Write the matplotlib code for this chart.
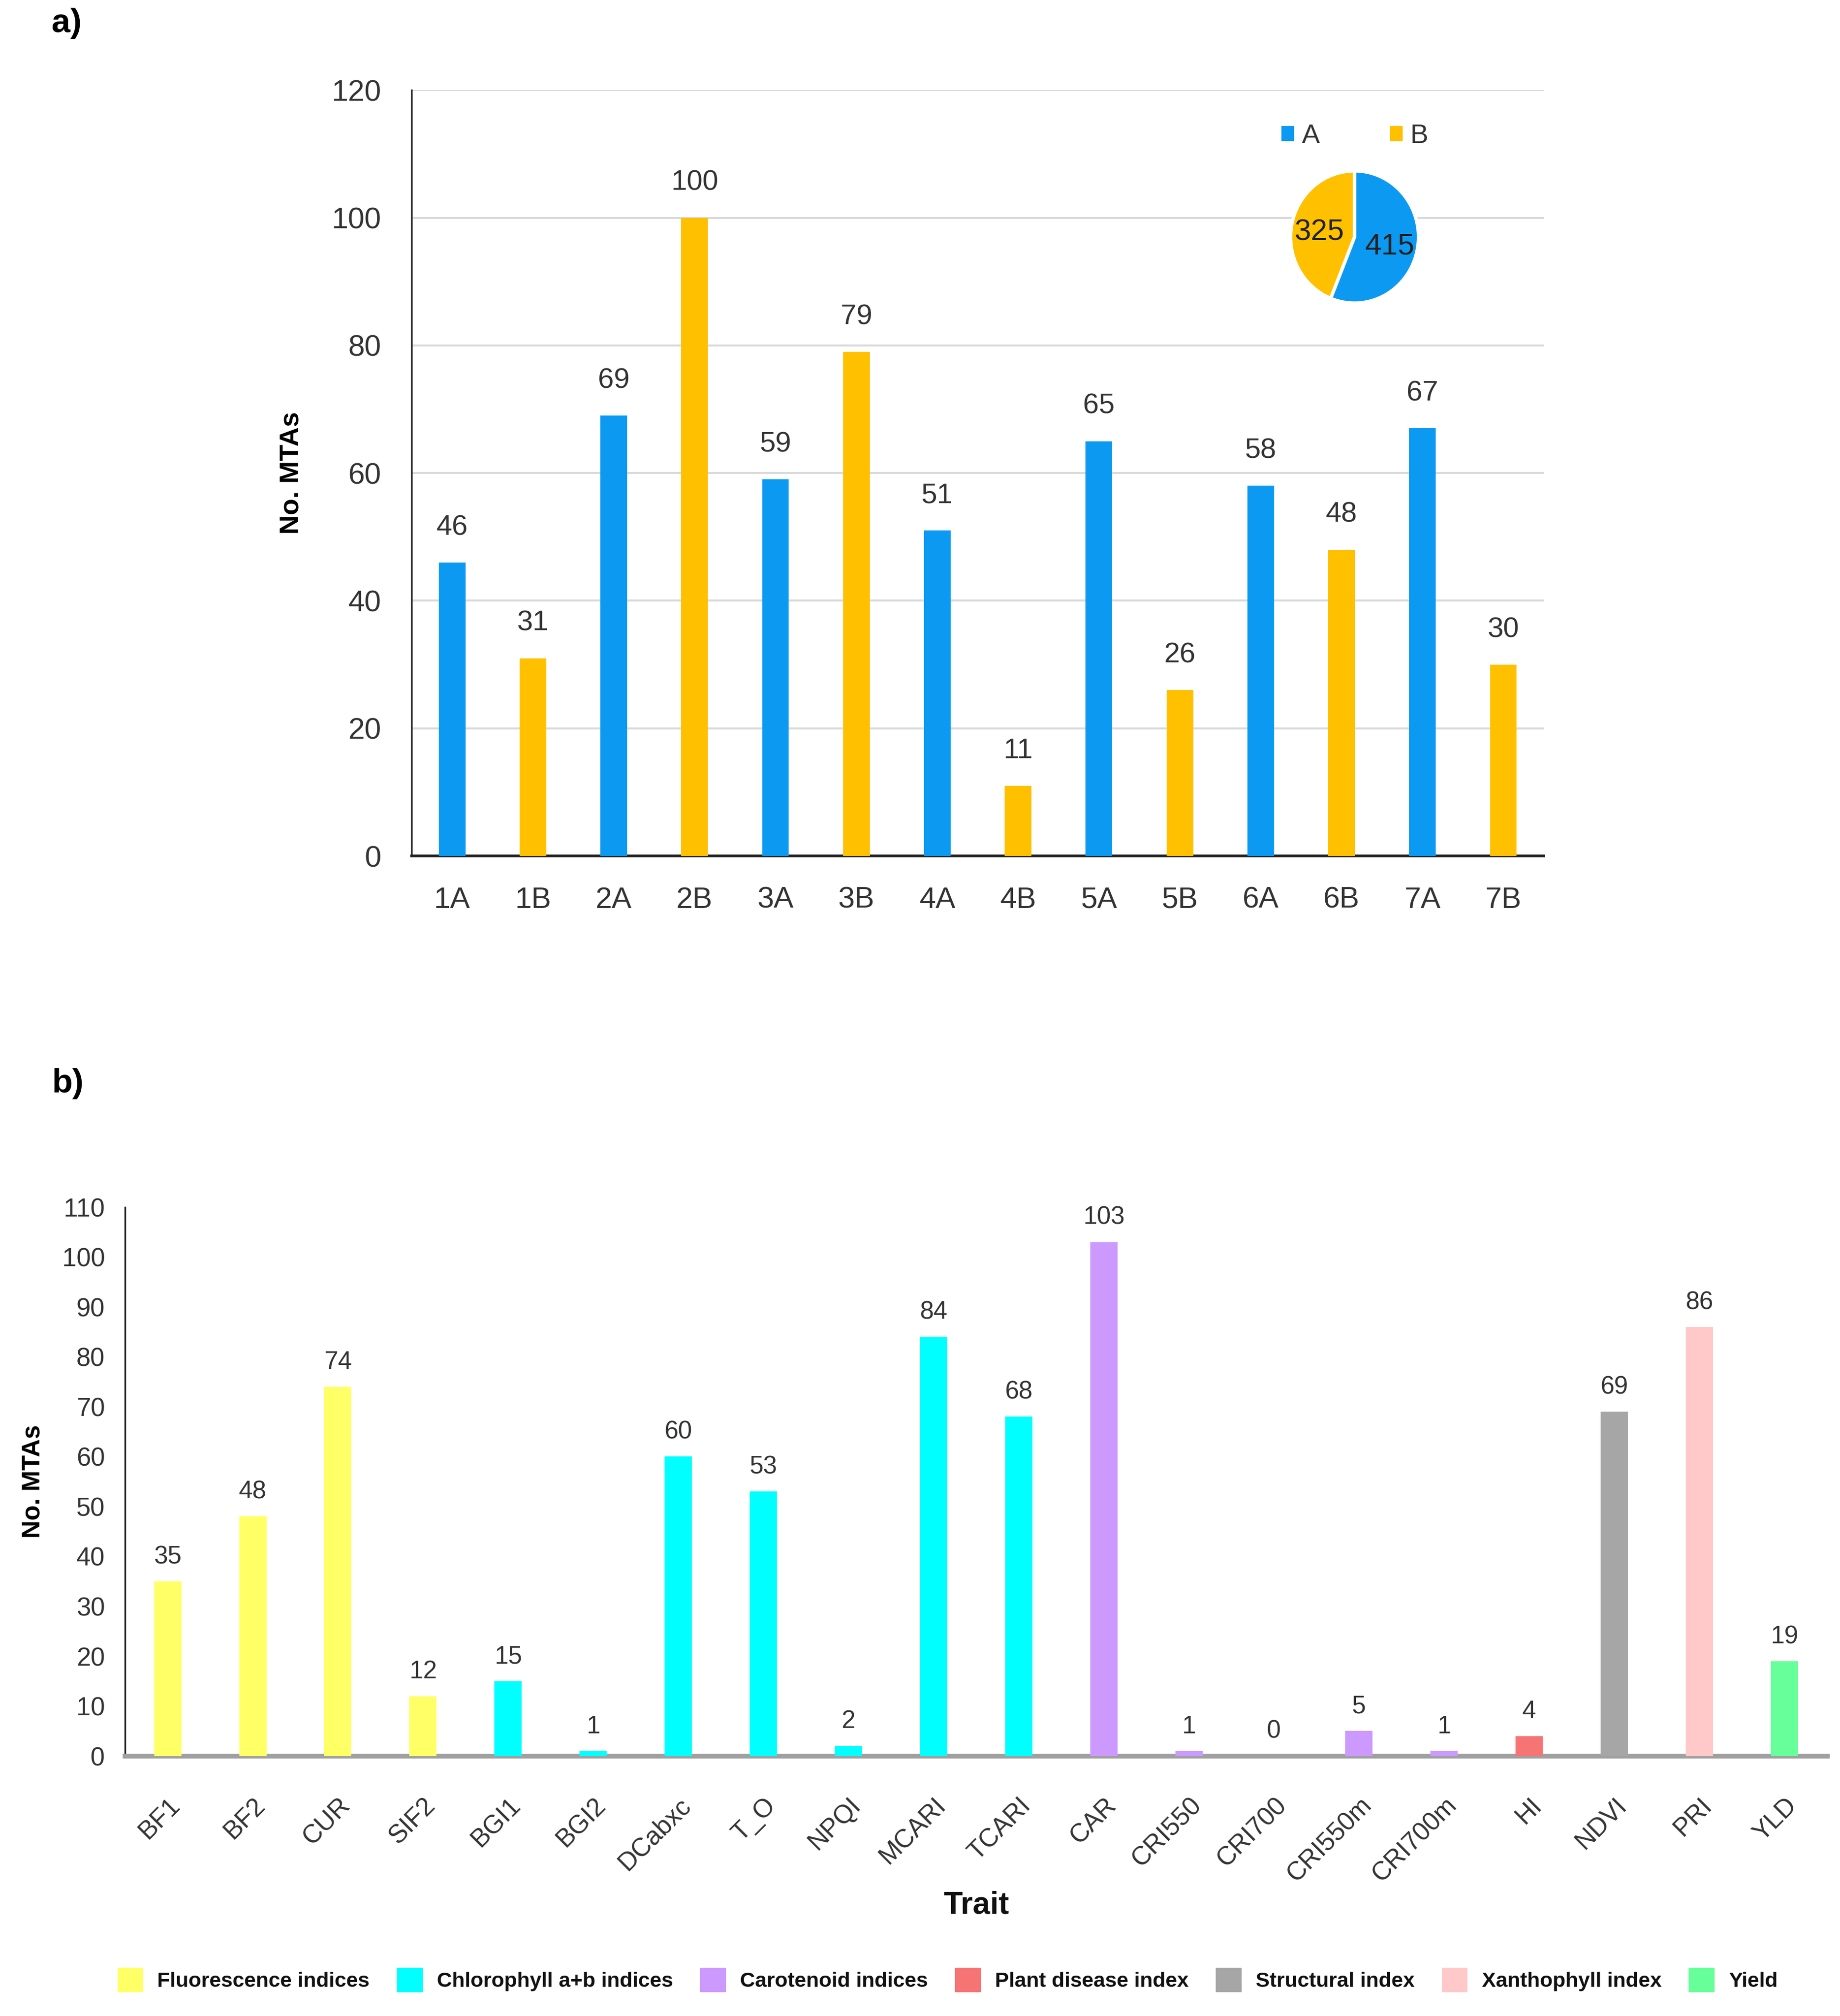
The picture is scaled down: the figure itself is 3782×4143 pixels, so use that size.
import matplotlib
matplotlib.use("Agg")
import matplotlib.pyplot as plt
from matplotlib.patches import Patch
import numpy as np

# ---------------- data ----------------
chromosomes = ["1A", "1B", "2A", "2B", "3A", "3B", "4A", "4B",
               "5A", "5B", "6A", "6B", "7A", "7B"]
chrom_mtas = [46, 31, 69, 100, 59, 79, 51, 11, 65, 26, 58, 48, 67, 30]
chrom_genome = ["A", "B", "A", "B", "A", "B", "A", "B",
                "A", "B", "A", "B", "A", "B"]
genome_names = ["A", "B"]
genome_totals = [415, 325]

traits = ["BF1", "BF2", "CUR", "SIF2", "BGI1", "BGI2", "DCabxc", "T_O",
          "NPQI", "MCARI", "TCARI", "CAR", "CRI550", "CRI700", "CRI550m",
          "CRI700m", "HI", "NDVI", "PRI", "YLD"]
trait_mtas = [35, 48, 74, 12, 15, 1, 60, 53, 2, 84, 68, 103, 1, 0, 5, 1,
              4, 69, 86, 19]
trait_group = ["Fluorescence indices"] * 4 + ["Chlorophyll a+b indices"] * 7 + \
              ["Carotenoid indices"] * 5 + ["Plant disease index",
               "Structural index", "Xanthophyll index", "Yield"]
groups = ["Fluorescence indices", "Chlorophyll a+b indices",
          "Carotenoid indices", "Plant disease index", "Structural index",
          "Xanthophyll index", "Yield"]

# ---------------- styles ----------------
genome_colors = {"A": "#0C99F2", "B": "#FFC000"}
group_colors = {"Fluorescence indices": "#FFFF66",
                "Chlorophyll a+b indices": "#00FFFF",
                "Carotenoid indices": "#CC99FF",
                "Plant disease index": "#F77474",
                "Structural index": "#A6A6A6",
                "Xanthophyll index": "#FFC9C9",
                "Yield": "#66FF99"}

FONT = ["Liberation Sans", "DejaVu Sans"]
plt.rcParams["font.family"] = FONT
txt = "#333333"

fig = plt.figure(figsize=(37.82, 41.43), dpi=100)

# ---------------- panel a ----------------
axa = fig.add_axes([0.2237, 0.5754, 0.6153, 0.3799])
xa = np.arange(len(chromosomes))
axa.bar(xa, chrom_mtas, width=0.33,
        color=[genome_colors[g] for g in chrom_genome], zorder=3)
for x, v in zip(xa, chrom_mtas):
    axa.text(x, v + 3.4, str(v), ha="center", va="bottom",
             fontsize=42, color=txt)
axa.set_xlim(-0.5, len(chromosomes) - 0.5)
axa.set_ylim(0, 120)
axa.set_yticks(np.arange(0, 121, 20))
axa.set_xticks(xa)
axa.set_xticklabels(chromosomes)
axa.tick_params(axis="both", length=0, labelsize=44, labelcolor=txt)
axa.tick_params(axis="x", pad=45)
axa.tick_params(axis="y", pad=45)
axa.yaxis.grid(True, color="#D9D9D9", linewidth=3, zorder=0)
axa.set_axisbelow(True)
for s in ["top", "right"]:
    axa.spines[s].set_visible(False)
axa.spines["left"].set_linewidth(2.5)
axa.spines["left"].set_color("#222222")
axa.spines["bottom"].set_linewidth(4)
axa.spines["bottom"].set_color("#222222")
axa.set_ylabel("No. MTAs", fontsize=40, fontweight="bold", labelpad=40)

# pie inset
axp = fig.add_axes([0.7007, 0.849, 0.0709, 0.0669])
wedges, texts = axp.pie(genome_totals,
                        colors=[genome_colors[g] for g in genome_names],
                        startangle=90, counterclock=False, radius=1.0,
                        wedgeprops=dict(edgecolor="white", linewidth=5))
for w, v in zip(wedges, genome_totals):
    ang = np.deg2rad((w.theta1 + w.theta2) / 2)
    axp.text(0.56 * np.cos(ang), 0.56 * np.sin(ang) - 0.04, str(v),
             ha="center", va="center", fontsize=44, color="#222222")
axp.set_aspect("auto")
axp.set_xlim(-1.02, 1.02)
axp.set_ylim(-1.02, 1.02)
fig.legend(handles=[Patch(color=genome_colors[g], label=g) for g in genome_names],
           loc="center", bbox_to_anchor=(0.7363, 0.9325), ncol=2,
           frameon=False, fontsize=40, handlelength=0.45, handleheight=0.45,
           handletextpad=0.3, columnspacing=2.6, labelcolor=txt)

# ---------------- panel b ----------------
axb = fig.add_axes([0.068, 0.129, 0.925, 0.2722])
xb = np.arange(len(traits))
axb.bar(xb, trait_mtas, width=0.32,
        color=[group_colors[g] for g in trait_group], zorder=3)
for x, v in zip(xb, trait_mtas):
    axb.text(x, v + 2.5, str(v), ha="center", va="bottom",
             fontsize=37, color=txt)
axb.set_xlim(-0.5, len(traits) - 0.5)
axb.set_ylim(0, 110)
axb.set_yticks(np.arange(0, 111, 10))
axb.set_xticks(xb)
axb.set_xticklabels(traits, rotation=45, ha="right", rotation_mode="anchor")
axb.tick_params(axis="both", length=0, labelsize=38, labelcolor=txt)
axb.tick_params(axis="x", pad=55)
axb.tick_params(axis="y", pad=30)
for s in ["top", "right"]:
    axb.spines[s].set_visible(False)
axb.spines["left"].set_linewidth(2.5)
axb.spines["left"].set_color("#222222")
axb.spines["bottom"].set_linewidth(7)
axb.spines["bottom"].set_color("#A0A0A0")
axb.set_ylabel("No. MTAs", fontsize=37, fontweight="bold", labelpad=25)
fig.text(0.5305, 0.055, "Trait", ha="center", va="center", fontsize=46,
         fontweight="bold", color="#111111")

fig.legend(handles=[Patch(color=group_colors[g], label=g) for g in groups],
           loc="center", bbox_to_anchor=(0.515, 0.018), ncol=len(groups),
           frameon=False, prop=dict(weight="bold", size=31),
           handlelength=1.2, handleheight=1.35, handletextpad=0.7,
           columnspacing=1.3, labelcolor="#111111")

# panel letters
fig.text(0.028, 0.9885, "a)", fontsize=50, fontweight="bold",
         ha="left", va="center")
fig.text(0.028, 0.4625, "b)", fontsize=50, fontweight="bold",
         ha="left", va="center")

fig.savefig("out.png", dpi=100, facecolor="white")
